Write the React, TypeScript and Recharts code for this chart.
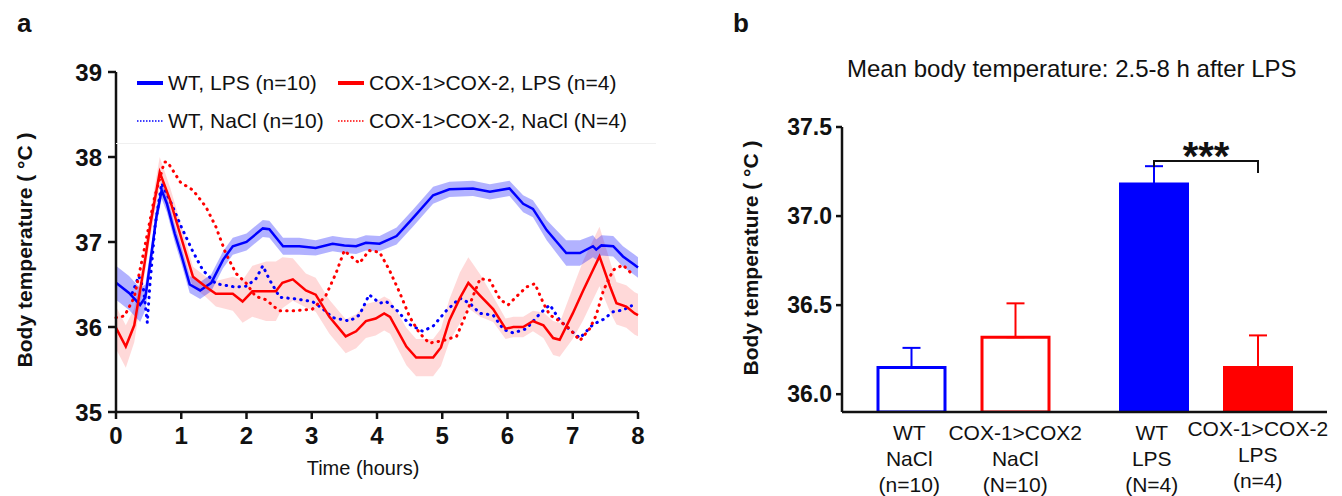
import React from 'react';
import { ComposedChart, Line, Area, XAxis, YAxis, Bar, Cell, ErrorBar, LabelList } from 'recharts';

const FONT = '"Liberation Sans", Arial, Helvetica, sans-serif';
const BLUE = '#0000ff';
const RED = '#ff0000';

// ---------- Panel a: body temperature over time ----------
const hourTicks = [0, 1, 2, 3, 4, 5, 6, 7, 8];
const tempTicks = [35, 36, 37, 38, 39];

// WT, LPS (n=10)
const wtLpsT = [0, 0.2, 0.37, 0.45, 0.55, 0.62, 0.7, 0.78, 0.9, 1.0, 1.13, 1.29, 1.46, 1.64, 1.79, 2.0, 2.25, 2.35, 2.56, 2.81, 3.06, 3.32, 3.5, 3.68, 3.83, 4.04, 4.3, 4.55, 4.86, 5.11, 5.47, 5.73, 6.03, 6.24, 6.39, 6.6, 6.9, 7.11, 7.31, 7.36, 7.44, 7.62, 7.77, 7.95, 8.0];
const wtLpsV = [36.52, 36.4, 36.26, 36.35, 36.9, 37.3, 37.61, 37.45, 37.1, 36.85, 36.5, 36.43, 36.52, 36.79, 36.95, 37.0, 37.16, 37.15, 36.95, 36.95, 36.93, 36.98, 36.96, 36.95, 36.99, 36.98, 37.07, 37.28, 37.55, 37.62, 37.63, 37.59, 37.63, 37.45, 37.39, 37.14, 36.87, 36.87, 36.95, 36.91, 36.96, 36.95, 36.83, 36.73, 36.7];
const wtLpsSem = [0.2, 0.2, 0.2, 0.15, 0.12, 0.1, 0.1, 0.1, 0.1, 0.1, 0.1, 0.1, 0.1, 0.1, 0.1, 0.1, 0.1, 0.1, 0.1, 0.1, 0.09, 0.09, 0.09, 0.09, 0.09, 0.09, 0.1, 0.1, 0.1, 0.09, 0.09, 0.09, 0.09, 0.1, 0.1, 0.12, 0.15, 0.15, 0.13, 0.12, 0.12, 0.12, 0.12, 0.12, 0.12];

// COX-1>COX-2, LPS (n=4)
const coxLpsT = [0, 0.15, 0.28, 0.43, 0.53, 0.67, 0.83, 0.98, 1.18, 1.38, 1.53, 1.79, 1.94, 2.09, 2.3, 2.45, 2.55, 2.71, 2.91, 3.06, 3.27, 3.52, 3.68, 3.83, 3.98, 4.11, 4.2, 4.45, 4.6, 4.86, 4.98, 5.11, 5.27, 5.4, 5.58, 5.78, 5.97, 6.09, 6.24, 6.39, 6.55, 6.7, 6.8, 7.0, 7.16, 7.31, 7.41, 7.57, 7.67, 7.82, 7.95, 8.0];
const coxLpsV = [35.99, 35.77, 36.02, 36.71, 37.22, 37.82, 37.49, 37.1, 36.59, 36.47, 36.39, 36.39, 36.3, 36.42, 36.42, 36.42, 36.52, 36.56, 36.43, 36.38, 36.12, 35.89, 35.95, 36.07, 36.1, 36.16, 36.12, 35.77, 35.64, 35.64, 35.76, 36.08, 36.34, 36.52, 36.37, 36.21, 35.98, 36.0, 36.0, 36.07, 36.02, 35.87, 35.85, 36.16, 36.43, 36.67, 36.83, 36.48, 36.28, 36.24, 36.16, 36.14];
const coxLpsSem = [0.25, 0.25, 0.2, 0.15, 0.15, 0.18, 0.15, 0.15, 0.12, 0.12, 0.15, 0.2, 0.25, 0.3, 0.35, 0.35, 0.3, 0.25, 0.2, 0.2, 0.2, 0.2, 0.2, 0.2, 0.2, 0.2, 0.2, 0.22, 0.22, 0.22, 0.22, 0.25, 0.3, 0.3, 0.25, 0.15, 0.12, 0.12, 0.12, 0.12, 0.15, 0.2, 0.2, 0.3, 0.35, 0.35, 0.35, 0.3, 0.25, 0.25, 0.25, 0.25];

// WT, NaCl (n=10)
const wtNaclT = [0.25, 0.35, 0.42, 0.48, 0.52, 0.6, 0.7, 0.85, 1.0, 1.17, 1.33, 1.53, 1.83, 1.99, 2.14, 2.25, 2.35, 2.51, 2.76, 3.01, 3.16, 3.32, 3.58, 3.73, 3.88, 4.04, 4.14, 4.3, 4.5, 4.7, 4.86, 5.06, 5.27, 5.42, 5.58, 5.78, 5.94, 6.09, 6.29, 6.5, 6.65, 6.8, 6.95, 7.11, 7.31, 7.47, 7.62, 7.77, 7.9];
const wtNaclV = [36.4, 36.6, 36.45, 36.05, 36.5, 37.2, 37.69, 37.45, 37.18, 36.9, 36.67, 36.51, 36.47, 36.48, 36.56, 36.72, 36.56, 36.35, 36.33, 36.3, 36.22, 36.11, 36.07, 36.14, 36.38, 36.28, 36.3, 36.2, 36.03, 35.95, 36.01, 36.19, 36.34, 36.28, 36.16, 36.14, 35.97, 35.93, 35.98, 36.16, 36.26, 36.08, 35.97, 35.87, 36.03, 36.09, 36.18, 36.2, 36.25];

// COX-1>COX-2, NaCl (N=4)
const coxNaclT = [0, 0.13, 0.28, 0.43, 0.59, 0.74, 0.79, 0.99, 1.18, 1.38, 1.53, 1.68, 1.84, 1.99, 2.14, 2.3, 2.5, 2.71, 3.01, 3.21, 3.37, 3.5, 3.57, 3.73, 3.88, 4.04, 4.19, 4.35, 4.5, 4.65, 4.8, 5.01, 5.22, 5.37, 5.47, 5.58, 5.73, 5.89, 6.01, 6.14, 6.29, 6.42, 6.55, 6.65, 6.8, 6.95, 7.11, 7.26, 7.36, 7.47, 7.62, 7.77, 7.9];
const coxNaclV = [36.11, 36.13, 36.35, 36.9, 37.52, 37.94, 37.94, 37.7, 37.61, 37.41, 37.18, 36.87, 36.63, 36.52, 36.36, 36.32, 36.19, 36.19, 36.21, 36.36, 36.63, 36.9, 36.85, 36.75, 36.9, 36.88, 36.67, 36.4, 36.12, 35.93, 35.81, 35.84, 35.89, 36.16, 36.36, 36.57, 36.55, 36.32, 36.26, 36.36, 36.47, 36.51, 36.28, 36.14, 36.07, 35.98, 35.84, 35.98, 36.14, 36.43, 36.67, 36.73, 36.63];

const withBand = (ts: number[], vs: number[], ss: number[]) =>
  ts.map((t, i) => ({ t, v: vs[i], band: [vs[i] - ss[i], vs[i] + ss[i]] }));
const plain = (ts: number[], vs: number[]) => ts.map((t, i) => ({ t, v: vs[i] }));

const wtLpsData = withBand(wtLpsT, wtLpsV, wtLpsSem);
const coxLpsData = withBand(coxLpsT, coxLpsV, coxLpsSem);
const wtNaclData = plain(wtNaclT, wtNaclV);
const coxNaclData = plain(coxNaclT, coxNaclV);

const legendItems = [
  { label: 'WT, LPS (n=10)', color: BLUE, dotted: false },
  { label: 'COX-1>COX-2, LPS (n=4)', color: RED, dotted: false },
  { label: 'WT, NaCl (n=10)', color: BLUE, dotted: true },
  { label: 'COX-1>COX-2, NaCl (N=4)', color: RED, dotted: true },
];

// ---------- Panel b: mean body temperature ----------
const groups = ['NaCl', 'LPS'];
const wtMean = [36.15, 37.18];
const wtErr = [0.11, 0.1];
const coxMean = [36.32, 36.15];
const coxErr = [0.19, 0.18];
const barTicks = [36.0, 36.5, 37.0, 37.5];
const wtNaclLabel = ['WT', 'NaCl', '(n=10)'];
const coxNaclLabel = ['COX-1>COX2', 'NaCl', '(N=10)'];
const wtLpsLabel = ['WT', 'LPS', '(N=4)'];
const coxLpsLabel = ['COX-1>COX-2', 'LPS', '(n=4)'];
const groupLabels = [[wtNaclLabel, coxNaclLabel], [wtLpsLabel, coxLpsLabel]];

const barData = groups.map((g, i) => ({
  group: g,
  wt: wtMean[i],
  wtE: [0, wtErr[i]],
  cox: coxMean[i],
  coxE: [0, coxErr[i]],
}));

const BAR_SIZE = 67;
const BAR_GAP = 37;

const LegendA = () => (
  <div style={{ position: 'absolute', left: 0, top: 0, width: 680, height: 150, fontFamily: FONT, fontSize: 21, color: '#111', pointerEvents: 'none' }}>
    <div style={{ position: 'absolute', left: 116, top: 143, width: 540, borderTop: '1px solid #f0f0f0' }} />
    {legendItems.map((it, i) => {
      const col = i % 2;
      const row = Math.floor(i / 2);
      const left = col === 0 ? 137 : 338;
      const cy = row === 0 ? 83 : 121;
      return (
        <div key={i} style={{ position: 'absolute', left, top: cy - 13, height: 26, display: 'flex', alignItems: 'center', whiteSpace: 'nowrap' }}>
          <svg width={26} height={10} style={{ marginRight: 5 }}>
            <line x1={0} y1={5} x2={26} y2={5} stroke={it.color} strokeWidth={it.dotted ? 1.5 : 4} strokeDasharray={it.dotted ? '1.5 1.5' : undefined} />
          </svg>
          <span style={{ lineHeight: '26px' }}>{it.label}</span>
        </div>
      );
    })}
  </div>
);

const yLabelA = () => (
  <text x={24} y={250} transform="rotate(-90 24 250)" textAnchor="middle" dominantBaseline="central" fontFamily={FONT} fontWeight="bold" fontSize={21} fill="#111">
    Body temperature ( °C )
  </text>
);
const xLabelA = () => (
  <text x={363} y={475} textAnchor="middle" fontFamily={FONT} fontSize={20} fill="#111">Time (hours)</text>
);
const yLabelB = () => (
  <text x={70} y={258} transform="rotate(-90 70 258)" textAnchor="middle" dominantBaseline="central" fontFamily={FONT} fontWeight="bold" fontSize={21} fill="#111">
    Body temperature ( °C )
  </text>
);

const GroupTick = (props: any) => {
  const { x, y, payload } = props;
  const gi = groups.indexOf(payload.value);
  const half = (BAR_SIZE + BAR_GAP) / 2;
  return (
    <g>
      {groupLabels[gi].map((lines, j) => {
        const cx = x + (j === 0 ? -half : half) - (j === 0 ? 2 : 0);
        const shift = gi === 1 && j === 1 ? -4 : 0;
        return (
          <text key={j} textAnchor="middle" fontFamily={FONT} fontSize={21} fill="#111">
            {lines.map((ln, k) => (
              <tspan key={k} x={cx} y={y + 28 + k * 26 + shift}>{ln}</tspan>
            ))}
          </text>
        );
      })}
    </g>
  );
};

const Bracket = (props: any) => {
  const { x, y, width, index } = props;
  if (index !== 1) return null;
  const c1 = x + width / 2;
  const c2 = c1 + BAR_SIZE + BAR_GAP;
  const top = y - 23;
  return (
    <g>
      <path d={`M${c1},${y - 17} L${c1},${top} L${c2},${top} L${c2},${top + 12}`} fill="none" stroke="#111" strokeWidth={2} />
      <text x={(c1 + c2) / 2} y={top + 9} textAnchor="middle" fontFamily={FONT} fontWeight="bold" fontSize={40} fill="#111">***</text>
    </g>
  );
};

const tickStyleA = { fontFamily: FONT, fontWeight: 'bold', fontSize: 24, fill: '#111' } as any;
const tickStyleB = { fontFamily: FONT, fontWeight: 'bold', fontSize: 23, fill: '#111' } as any;

export default function App() {
  return (
    <div style={{ position: 'absolute', left: 0, top: 0, width: 1342, height: 496, background: '#fff', overflow: 'hidden' }}>
      <svg width={1342} height={60} style={{ position: 'absolute', left: 0, top: 0 }}>
        <text x={17} y={32} fontFamily={FONT} fontWeight="bold" fontSize={26} fill="#111">a</text>
        <text x={733} y={32} fontFamily={FONT} fontWeight="bold" fontSize={26} fill="#111">b</text>
      </svg>
      <div style={{ position: 'absolute', left: 0, top: 0, width: 680, height: 496 }}>
        <ComposedChart width={680} height={496} margin={{ top: 72, right: 42, bottom: 24, left: 56 }}>
          <XAxis type="number" dataKey="t" domain={[0, 8]} ticks={hourTicks} allowDuplicatedCategory={false}
            stroke="#111" strokeWidth={2.5} tickSize={7} tickMargin={8} tick={tickStyleA} tickLine={{ stroke: '#111', strokeWidth: 2.5 }}
            height={60} label={{ content: xLabelA }} />
          <YAxis type="number" domain={[35, 39]} ticks={tempTicks} width={60}
            stroke="#111" strokeWidth={2.5} tickSize={8} tickMargin={6} tick={tickStyleA} tickLine={{ stroke: '#111', strokeWidth: 2.5 }}
            label={{ content: yLabelA }} />
          <Area data={coxLpsData} dataKey="band" type="linear" stroke="none" fill={RED} fillOpacity={0.15} isAnimationActive={false} legendType="none" />
          <Area data={wtLpsData} dataKey="band" type="linear" stroke="none" fill={BLUE} fillOpacity={0.3} isAnimationActive={false} legendType="none" />
          <Line data={wtNaclData} dataKey="v" type="linear" stroke={BLUE} strokeWidth={3} strokeLinecap="round" strokeDasharray="0.5 6" dot={false} isAnimationActive={false} />
          <Line data={coxNaclData} dataKey="v" type="linear" stroke={RED} strokeWidth={3} strokeLinecap="round" strokeDasharray="0.5 6" dot={false} isAnimationActive={false} />
          <Line data={wtLpsData} dataKey="v" type="linear" stroke={BLUE} strokeWidth={2.5} dot={false} isAnimationActive={false} />
          <Line data={coxLpsData} dataKey="v" type="linear" stroke={RED} strokeWidth={2.5} dot={false} isAnimationActive={false} />
        </ComposedChart>
        <LegendA />
      </div>
      <div style={{ position: 'absolute', left: 680, top: 0, width: 662, height: 496 }}>
        <svg width={662} height={100} style={{ position: 'absolute', left: 0, top: 0 }}>
          <text x={167} y={77} fontFamily={FONT} fontSize={24} fill="#111">Mean body temperature: 2.5-8 h after LPS</text>
        </svg>
        <ComposedChart width={662} height={496} data={barData} margin={{ top: 127, right: 15, bottom: 24, left: 102 }} barSize={BAR_SIZE} barGap={BAR_GAP}>
          <XAxis dataKey="group" type="category" stroke="#111" strokeWidth={2.5} tickLine={false} tickSize={0} tickMargin={0} tick={<GroupTick />} height={60} interval={0} />
          <YAxis type="number" domain={[35.9, 37.5]} ticks={barTicks} width={60} allowDataOverflow
            stroke="#111" strokeWidth={2.5} tickSize={6} tickMargin={4} tick={tickStyleB} tickLine={{ stroke: '#111', strokeWidth: 2.5 }}
            tickFormatter={(v: number) => v.toFixed(1)} label={{ content: yLabelB }} />
          <Bar dataKey="wt" isAnimationActive={false} strokeWidth={3} stroke={BLUE}>
            {barData.map((d, i) => (
              <Cell key={i} fill={i === 0 ? '#fff' : BLUE} stroke={BLUE} />
            ))}
            <ErrorBar dataKey="wtE" direction="y" width={9} stroke={BLUE} strokeWidth={2} />
            <LabelList dataKey="wt" content={<Bracket />} />
          </Bar>
          <Bar dataKey="cox" isAnimationActive={false} strokeWidth={3} stroke={RED}>
            {barData.map((d, i) => (
              <Cell key={i} fill={i === 0 ? '#fff' : RED} stroke={RED} />
            ))}
            <ErrorBar dataKey="coxE" direction="y" width={9} stroke={RED} strokeWidth={2} />
          </Bar>
        </ComposedChart>
      </div>
    </div>
  );
}
